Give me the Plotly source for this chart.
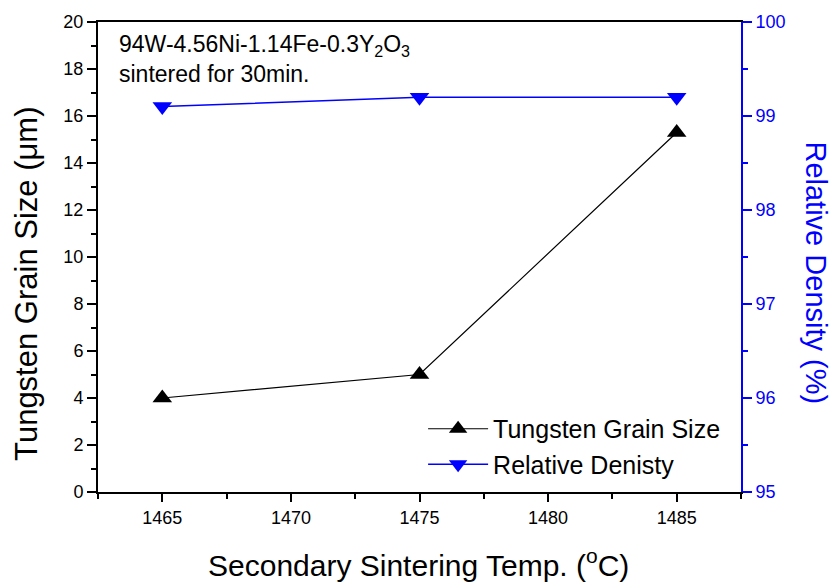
import plotly.graph_objects as go

temps = [1465, 1475, 1485]
grain_size = [4.0, 5.0, 15.3]
rel_density = [99.1, 99.2, 99.2]

FONT = "Liberation Sans, Arial, sans-serif"
BLUE = "#0000FF"

fig = go.Figure()
fig.add_trace(go.Scatter(
    x=temps, y=grain_size, name="Tungsten Grain Size",
    mode="lines+markers",
    line=dict(color="black", width=1.2),
    marker=dict(symbol="triangle-up", size=17, color="black"),
    yaxis="y",
))
fig.add_trace(go.Scatter(
    x=temps, y=rel_density, name="Relative Denisty",
    mode="lines+markers",
    line=dict(color=BLUE, width=1.5),
    marker=dict(symbol="triangle-down", size=17, color=BLUE),
    yaxis="y2",
))

tickfont = dict(family=FONT, size=18, color="black")

fig.update_layout(
    width=834, height=585,
    margin=dict(l=98, r=93, t=17, b=93),
    paper_bgcolor="white", plot_bgcolor="white",
    font=dict(family=FONT, color="black"),
    xaxis=dict(
        range=[1462.5, 1487.5], tick0=1465, dtick=5,
        showline=True, linecolor="black", linewidth=2, mirror=True,
        ticks="outside", ticklen=8, tickwidth=1.5, tickcolor="black",
        minor=dict(dtick=2.5, tick0=1462.5, ticks="outside", ticklen=5, tickwidth=1.5, tickcolor="black"),
        showgrid=False, zeroline=False, tickfont=tickfont,
    ),
    yaxis=dict(
        range=[0, 20], dtick=2, tick0=0,
        showline=True, linecolor="black", linewidth=2,
        ticks="outside", ticklen=9, tickwidth=1.5, tickcolor="black",
        minor=dict(dtick=1, ticks="outside", ticklen=5, tickwidth=1.5, tickcolor="black"),
        showgrid=False, zeroline=False, tickfont=tickfont,
    ),
    yaxis2=dict(
        range=[95, 100], dtick=1, tick0=95,
        overlaying="y", side="right",
        showline=True, linecolor=BLUE, linewidth=2,
        ticks="outside", ticklen=9, tickwidth=1.5, tickcolor=BLUE,
        minor=dict(dtick=0.5, ticks="outside", ticklen=5, tickwidth=1.5, tickcolor=BLUE),
        showgrid=False, zeroline=False,
        tickfont=dict(family=FONT, size=18, color=BLUE),
    ),
    legend=dict(
        x=0.5056, y=0.183, xanchor="left", yanchor="top",
        bgcolor="rgba(0,0,0,0)", borderwidth=0,
        font=dict(family=FONT, size=25, color="black"),
        itemwidth=60, tracegroupgap=0,
    ),
    showlegend=True,
)

fig.add_annotation(
    text="94W-4.56Ni-1.14Fe-0.3Y<sub>2</sub>O<sub>3</sub><br>sintered for 30min.",
    xref="paper", yref="paper", x=0.029, y=0.985,
    xanchor="left", yanchor="top", align="left", showarrow=False,
    font=dict(family=FONT, size=23, color="black"),
)
fig.add_annotation(
    text="Tungsten Grain Size (\u03bcm)",
    xref="paper", yref="paper", x=-0.111, y=0.442,
    xanchor="center", yanchor="middle", textangle=-90, showarrow=False,
    font=dict(family=FONT, size=31, color="black"),
)
fig.add_annotation(
    text="Relative Density (%)",
    xref="paper", yref="paper", x=1.1166, y=0.465,
    xanchor="center", yanchor="middle", textangle=90, showarrow=False,
    font=dict(family=FONT, size=29, color=BLUE),
)
fig.add_annotation(
    text="Secondary Sintering Temp. (<sup>o</sup>C)",
    xref="paper", yref="paper", x=0.4977, y=-0.150,
    xanchor="center", yanchor="middle", showarrow=False,
    font=dict(family=FONT, size=30, color="black"),
)

fig.write_html("out.html")
